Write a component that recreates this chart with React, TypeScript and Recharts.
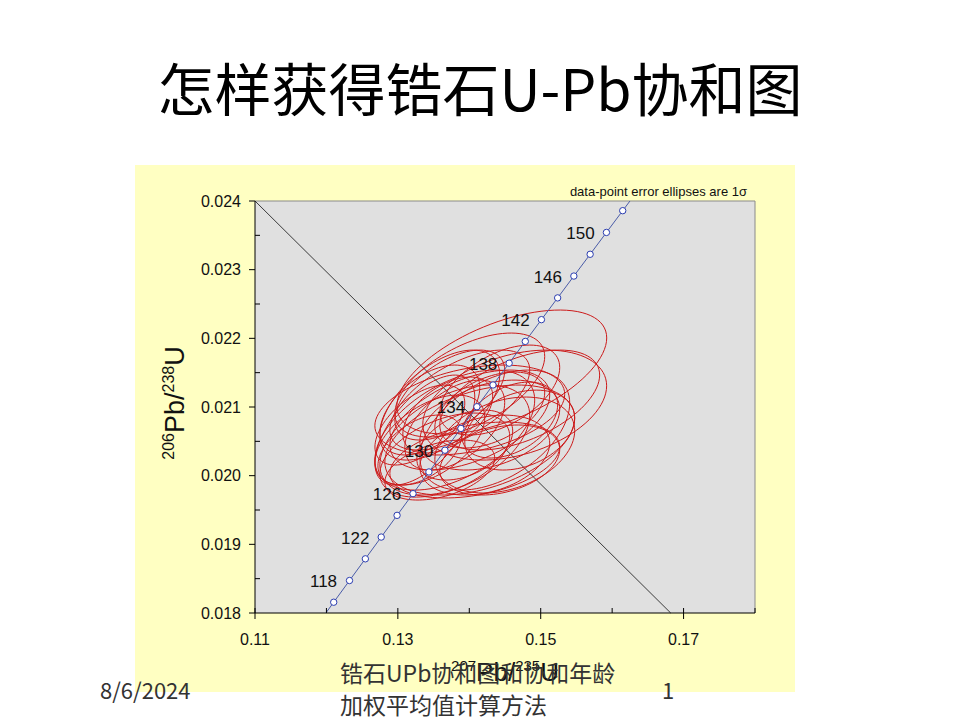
import { ScatterChart, Scatter, XAxis, YAxis, CartesianGrid, ReferenceLine } from 'recharts'

// concordia curve (age in Ma, 207Pb/235U, 206Pb/238U)
const curveAges = [114, 116, 118, 120, 122, 124, 126, 128, 130, 132, 134, 136, 138, 140, 142, 144, 146, 148, 150, 152, 154, 156]
const curve207 = [0.11882, 0.12102, 0.12323, 0.12545, 0.12767, 0.12989, 0.13212, 0.13435, 0.13659, 0.13883, 0.14107, 0.14332, 0.14558, 0.14784, 0.1501, 0.15237, 0.15464, 0.15692, 0.1592, 0.16148, 0.16377, 0.16607]
const curve206 = [0.017842, 0.018157, 0.018473, 0.018789, 0.019106, 0.019422, 0.019738, 0.020054, 0.020371, 0.020688, 0.021004, 0.021321, 0.021638, 0.021955, 0.022272, 0.022589, 0.022907, 0.023224, 0.023542, 0.023859, 0.024177, 0.024495]
const markedAges = [116, 118, 120, 122, 124, 126, 128, 130, 132, 134, 136, 138, 140, 142, 144, 146, 148, 150, 152]
const labeledAges = [118, 122, 126, 130, 134, 138, 142, 146, 150]

// data-point error ellipses (1 sigma): centre, sigma x, sigma y, correlation
const ellX = [0.14455, 0.14636, 0.13587, 0.14007, 0.13797, 0.14147, 0.13448, 0.13657, 0.14287, 0.14497, 0.13867, 0.13308, 0.14077, 0.14427, 0.14007, 0.13587, 0.14706, 0.13797, 0.14287, 0.13448, 0.14217, 0.13937, 0.14566, 0.13699, 0.13308, 0.13797, 0.14357, 0.14007, 0.13378, 0.14427, 0.13727, 0.14706]
const ellY = [0.021509, 0.021028, 0.021028, 0.02081, 0.020519, 0.020519, 0.020519, 0.0203, 0.020737, 0.020446, 0.021101, 0.020737, 0.020228, 0.021247, 0.02132, 0.020082, 0.020664, 0.020737, 0.020956, 0.020956, 0.0203, 0.020446, 0.02081, 0.020883, 0.020373, 0.020664, 0.020664, 0.020956, 0.020664, 0.020228, 0.021174, 0.021101]
const ellSx = [0.01469, 0.01287, 0.00839, 0.01119, 0.01049, 0.01329, 0.00769, 0.00909, 0.00979, 0.00979, 0.00979, 0.00629, 0.01189, 0.00839, 0.01049, 0.00769, 0.00769, 0.00699, 0.00769, 0.00699, 0.00909, 0.00671, 0.00671, 0.00629, 0.00587, 0.01119, 0.01049, 0.01329, 0.00699, 0.00839, 0.00769, 0.01119]
const ellSy = [0.000903, 0.000801, 0.000801, 0.000728, 0.000801, 0.000801, 0.000655, 0.000612, 0.000655, 0.000699, 0.000728, 0.000582, 0.000553, 0.000655, 0.000757, 0.000437, 0.000582, 0.000655, 0.000553, 0.000655, 0.000582, 0.00051, 0.000553, 0.000553, 0.00051, 0.000874, 0.000874, 0.000655, 0.000801, 0.00051, 0.000655, 0.000728]
const ellRho = [0.55, 0.35, 0.55, 0.5, 0.45, 0.4, 0.5, 0.45, 0.35, 0.3, 0.6, 0.55, 0.35, 0.5, 0.55, 0.4, 0.3, 0.5, 0.45, 0.5, 0.3, 0.4, 0.4, 0.5, 0.45, 0.5, 0.45, 0.35, 0.6, 0.3, 0.55, 0.5]

const xTicks = [0.11, 0.12, 0.13, 0.14, 0.15, 0.16, 0.17, 0.18]
const xLabelled = [0.11, 0.13, 0.15, 0.17]
const yTicks = [0.018, 0.0185, 0.019, 0.0195, 0.02, 0.0205, 0.021, 0.0215, 0.022, 0.0225, 0.023, 0.0235, 0.024]

const FONT = '"Liberation Sans", Arial, sans-serif'
const CJK = '"Noto Sans CJK SC", "Liberation Sans", sans-serif'

const curveData = curveAges.map((a, i) => ({ x: curve207[i], y: curve206[i], age: a }))
const markData = curveData
  .filter((d) => markedAges.includes(d.age))
  .map((d) => ({ ...d, label: labeledAges.includes(d.age) ? String(d.age) : '' }))

function ellipseOutline(i: number) {
  const r = ellRho[i]
  const k = Math.sqrt(1 - r * r)
  const pts: { x: number; y: number }[] = []
  for (let j = 0; j <= 90; j++) {
    const a = (j / 90) * Math.PI * 2
    pts.push({
      x: ellX[i] + ellSx[i] * Math.cos(a),
      y: ellY[i] + ellSy[i] * (r * Math.cos(a) + k * Math.sin(a)),
    })
  }
  return pts
}

function XTick({ x, y, payload }: any) {
  const v = payload.value as number
  const major = xLabelled.some((m) => Math.abs(m - v) < 1e-9)
  return (
    <g>
      <line x1={x} x2={x} y1={y - 5} y2={major ? y + 6 : y} stroke="#000" strokeWidth={1} />
      {major && (
        <text x={x} y={y + 26} textAnchor="middle" dominantBaseline="central" fontSize={16} fill="#111" fontFamily={FONT}>
          {v.toFixed(2)}
        </text>
      )}
    </g>
  )
}

function YTick({ x, y, payload }: any) {
  const v = payload.value as number
  const major = Math.round(v * 10000) % 10 === 0
  return (
    <g>
      {major ? (
        <line x1={x - 6} x2={x} y1={y} y2={y} stroke="#000" strokeWidth={1} />
      ) : (
        <line x1={x} x2={x + 5} y1={y} y2={y} stroke="#000" strokeWidth={1} />
      )}
      {major && (
        <text x={x - 14} y={y} textAnchor="end" dominantBaseline="central" fontSize={16} fill="#111" fontFamily={FONT}>
          {v.toFixed(3)}
        </text>
      )}
    </g>
  )
}

const renderMark = (p: any) => (
  <g>
    <circle cx={p.cx} cy={p.cy} r={3.2} fill="#fff" stroke="#2a3cb0" strokeWidth={1} />
    {p.payload.label && (
      <text x={p.cx - 26} y={p.cy + 1} textAnchor="middle" dominantBaseline="central" fontSize={17} fill="#111" fontFamily={FONT}>
        {p.payload.label}
      </text>
    )}
  </g>
)

const noShape = () => <g />

export default function App() {
  return (
    <div style={{ position: 'absolute', left: 0, top: 0, width: 960, height: 720, background: '#fff', overflow: 'hidden' }}>
      <div
        style={{
          position: 'absolute', left: 0, top: 55, width: 960, textAlign: 'center',
          fontFamily: CJK, fontSize: 57, lineHeight: '62px', color: '#000',
        }}
      >
        怎样获得锆石U-Pb协和图
      </div>

      <div style={{ position: 'absolute', left: 135, top: 165, width: 660, height: 527, background: '#ffffc2' }}>
        <ScatterChart width={660} height={527} margin={{ top: 36, right: 40, bottom: 39, left: 40 }}>
          <CartesianGrid fill="#e0e0e0" fillOpacity={1} horizontal={false} vertical={false} />
          <XAxis
            type="number"
            dataKey="x"
            domain={[0.11, 0.18]}
            ticks={xTicks}
            allowDataOverflow
            height={40}
            tickSize={0}
            tickMargin={0}
            tick={<XTick />}
            axisLine={{ stroke: '#000' }}
            tickLine={false}
          />
          <YAxis
            type="number"
            dataKey="y"
            domain={[0.018, 0.024]}
            ticks={yTicks}
            allowDataOverflow
            width={80}
            tickSize={0}
            tickMargin={0}
            tick={<YTick />}
            axisLine={{ stroke: '#000' }}
            tickLine={false}
          />
          <ReferenceLine y={0.024} stroke="#8a8a8a" />
          <ReferenceLine x={0.18} stroke="#8a8a8a" />
          <ReferenceLine
            segment={[{ x: 0.11, y: 0.024 }, { x: 0.1682, y: 0.018 }]}
            stroke="#3a3a3a"
            strokeWidth={1}
          />
          {ellX.map((_, i) => (
            <Scatter
              key={`e${i}`}
              data={ellipseOutline(i)}
              line={{ stroke: '#cc1a1a', strokeWidth: 1 }}
              lineType="joint"
              shape={noShape}
              isAnimationActive={false}
            />
          ))}
          <Scatter
            data={curveData}
            line={{ stroke: '#4a5ca8', strokeWidth: 1 }}
            lineType="joint"
            shape={noShape}
            isAnimationActive={false}
          />
          <Scatter data={markData} shape={renderMark} isAnimationActive={false} />
        </ScatterChart>
      </div>

      <div
        style={{
          position: 'absolute', right: 213, top: 184, fontFamily: FONT, fontSize: 13, color: '#111', whiteSpace: 'nowrap',
        }}
      >
        data-point error ellipses are 1σ
      </div>

      <div
        style={{
          position: 'absolute', left: 175, top: 403, transform: 'translate(-50%, -50%) rotate(-90deg)',
          fontFamily: FONT, fontSize: 27, color: '#111', whiteSpace: 'nowrap',
        }}
      >
        <sup style={{ fontSize: 16 }}>206</sup>Pb/<sup style={{ fontSize: 16 }}>238</sup>U
      </div>

      <div
        style={{
          position: 'absolute', left: 505, top: 672, transform: 'translate(-50%, -50%)',
          fontFamily: FONT, fontSize: 26, color: '#111', whiteSpace: 'nowrap',
        }}
      >
        <sup style={{ fontSize: 15 }}>207</sup>Pb/<sup style={{ fontSize: 15 }}>235</sup>U
      </div>

      <div style={{ position: 'absolute', left: 100, top: 674, fontFamily: CJK, fontSize: 22, color: '#333', lineHeight: '30px' }}>
        8/6/2024
      </div>
      <div style={{ position: 'absolute', left: 340, top: 656, fontFamily: CJK, fontSize: 23, color: '#333', lineHeight: '32px' }}>
        锆石UPb协和图和协和年龄
        <br />
        加权平均值计算方法
      </div>
      <div style={{ position: 'absolute', left: 662, top: 674, fontFamily: CJK, fontSize: 22, color: '#333', lineHeight: '30px' }}>
        1
      </div>
    </div>
  )
}
